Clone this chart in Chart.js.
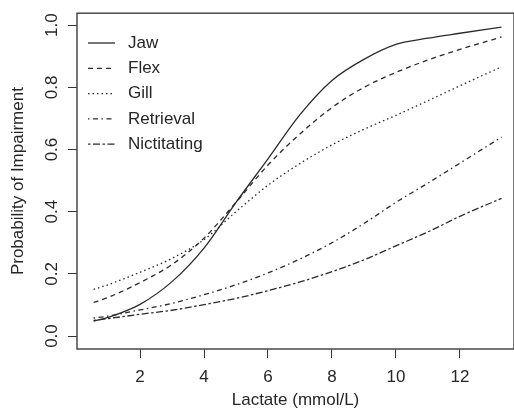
<!DOCTYPE html>
<html>
<head>
<meta charset="utf-8">
<script src="https://cdn.jsdelivr.net/npm/chart.js@4.4.1/dist/chart.umd.min.js"></script>
<style>
  html, body { margin: 0; padding: 0; background: #fff; }
  #wrap { width: 514px; height: 413px; }
</style>
</head>
<body>
<div id="wrap"><canvas id="impairChart" width="514" height="413"></canvas></div>
<script>
// Values
const lactate     = [0.55, 1, 2, 3, 4, 5, 6, 7, 8, 9, 10, 11, 12, 13.3];
const jaw         = [0.048, 0.060, 0.102, 0.175, 0.283, 0.43, 0.57, 0.712, 0.822, 0.89, 0.938, 0.958, 0.974, 0.994];
const flex        = [0.108, 0.124, 0.172, 0.23, 0.315, 0.43, 0.55, 0.65, 0.735, 0.80, 0.848, 0.888, 0.922, 0.962];
const gill        = [0.15, 0.165, 0.205, 0.25, 0.31, 0.40, 0.485, 0.555, 0.615, 0.665, 0.71, 0.757, 0.805, 0.866];
const retrieval   = [0.058, 0.064, 0.084, 0.105, 0.133, 0.165, 0.203, 0.248, 0.30, 0.362, 0.43, 0.492, 0.556, 0.64];
const nictitating = [0.05, 0.056, 0.07, 0.083, 0.101, 0.121, 0.146, 0.174, 0.207, 0.245, 0.29, 0.335, 0.385, 0.443];

const seriesNames = ['Jaw', 'Flex', 'Gill', 'Retrieval', 'Nictitating'];
const xTicks = [2, 4, 6, 8, 10, 12];
const yTicks = [0, 0.2, 0.4, 0.6, 0.8, 1.0];

const lineColor = '#2b2b2b';
const textColor = '#262626';
const fontFamily = '"Liberation Sans", Arial, sans-serif';

// line styles, R lty 1..6 style
const dashes = [[], [5, 4], [1.5, 3], [1.5, 3.5, 5, 3.5], [2.5, 2.5, 7, 2.5]];

function toPoints(values) {
    return values.map((v, i) => ({ x: lactate[i], y: v }));
}

const allValues = [jaw, flex, gill, retrieval, nictitating];

const datasets = allValues.map((vals, i) => ({
    label: seriesNames[i],
    data: toPoints(vals),
    borderColor: lineColor,
    borderWidth: 1.3,
    borderDash: dashes[i],
    pointRadius: 0,
    fill: false,
    cubicInterpolationMode: 'monotone',
}));

// Box around the plot, rotated y labels and the legend
const rStylePlugin = {
    id: 'rStyle',
    afterDraw(chart) {
        const ctx = chart.ctx;
        const area = chart.chartArea;
        const yScale = chart.scales.y;

        ctx.save();
        // plot frame
        ctx.strokeStyle = '#4a4a4a';
        ctx.lineWidth = 1.5;
        ctx.strokeRect(area.left, area.top, area.right - area.left, area.bottom - area.top);

        // y tick labels, rotated like R
        ctx.fillStyle = textColor;
        ctx.font = '17px ' + fontFamily;
        ctx.textAlign = 'center';
        ctx.textBaseline = 'middle';
        yTicks.forEach((v) => {
            const py = yScale.getPixelForValue(v);
            ctx.save();
            ctx.translate(52, py);
            ctx.rotate(-Math.PI / 2);
            ctx.fillText(v.toFixed(1), 0, 0);
            ctx.restore();
        });

        // legend, no box
        ctx.textAlign = 'left';
        chart.data.datasets.forEach((ds, i) => {
            const cy = 43 + i * 25.3;
            ctx.beginPath();
            ctx.setLineDash(ds.borderDash);
            ctx.lineWidth = 1.3;
            ctx.strokeStyle = lineColor;
            ctx.moveTo(88, cy);
            ctx.lineTo(115, cy);
            ctx.stroke();
            ctx.setLineDash([]);
            ctx.fillText(ds.label, 128, cy);
        });
        ctx.restore();
    },
};

Chart.defaults.font.family = fontFamily;

const impairChart = new Chart(document.getElementById('impairChart'), {
    type: 'line',
    data: { datasets: datasets },
    options: {
        responsive: false,
        animation: false,
        layout: { padding: { top: 12, right: 0, left: 0, bottom: 0 } },
        plugins: {
            legend: { display: false },
            tooltip: { enabled: false },
        },
        scales: {
            x: {
                type: 'linear',
                min: 0.03,
                max: 13.69,
                afterBuildTicks: (scale) => { scale.ticks = xTicks.map((v) => ({ value: v })); },
                afterFit: (scale) => { scale.height = 64; },
                grid: { drawOnChartArea: false, drawTicks: true, tickLength: 9, tickColor: '#333', lineWidth: 1 },
                border: { display: false },
                ticks: { color: textColor, font: { size: 17 }, padding: 9, maxRotation: 0 },
                title: {
                    display: true,
                    text: 'Lactate (mmol/L)',
                    color: textColor,
                    font: { size: 17 },
                    padding: { top: 0, bottom: 2 },
                },
            },
            y: {
                type: 'linear',
                min: -0.0417,
                max: 1.0385,
                afterBuildTicks: (scale) => { scale.ticks = yTicks.map((v) => ({ value: v })); },
                afterFit: (scale) => { scale.width = 77; },
                grid: { drawOnChartArea: false, drawTicks: true, tickLength: 9, tickColor: '#333', lineWidth: 1 },
                border: { display: false },
                ticks: { color: 'rgba(0,0,0,0)', font: { size: 17 } },
                title: {
                    display: true,
                    text: 'Probability of Impairment',
                    color: textColor,
                    font: { size: 17 },
                    padding: { top: 8, bottom: 0 },
                },
            },
        },
    },
    plugins: [rStylePlugin],
});
</script>
</body>
</html>
